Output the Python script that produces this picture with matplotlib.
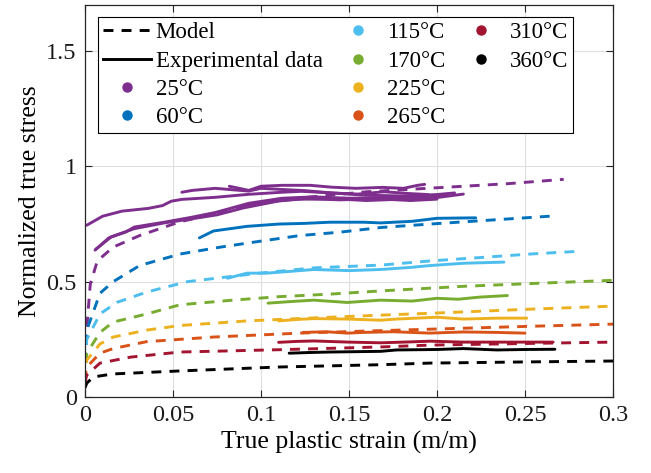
import matplotlib
matplotlib.use("Agg")
import matplotlib.pyplot as plt
from matplotlib.lines import Line2D

plt.rcParams["font.family"] = ["Liberation Serif", "DejaVu Serif"]

# MATLAB default line colours, one per test temperature
temps = ["25°C", "60°C", "115°C", "170°C", "225°C", "265°C", "310°C", "360°C"]
colors = ["#7E2F8E", "#0072BD", "#4DBEEE", "#77AC30", "#EDB120", "#D95319", "#A2142F", "#000000"]

# model curves (strain, normalized stress)
model_25_x = [0, 0.0005, 0.001, 0.003, 0.007, 0.016, 0.031, 0.054, 0.077, 0.099, 0.118, 0.16, 0.206, 0.24, 0.272]
model_25_y = [0.07, 0.22, 0.30, 0.49, 0.59, 0.65, 0.70, 0.76, 0.80, 0.84, 0.86, 0.89, 0.91, 0.925, 0.944]
model_60_x = [0, 0.0005, 0.001, 0.0085, 0.016, 0.031, 0.054, 0.077, 0.099, 0.122, 0.145, 0.168, 0.196, 0.23, 0.264]
model_60_y = [0.07, 0.22, 0.29, 0.45, 0.50, 0.57, 0.62, 0.65, 0.675, 0.70, 0.715, 0.735, 0.75, 0.767, 0.784]
model_115_x = [0, 0.0005, 0.001, 0.0085, 0.018, 0.035, 0.058, 0.080, 0.099, 0.13, 0.168, 0.196, 0.225, 0.253, 0.281]
model_115_y = [0.07, 0.19, 0.25, 0.36, 0.41, 0.455, 0.50, 0.52, 0.537, 0.56, 0.572, 0.59, 0.605, 0.62, 0.632]
model_170_x = [0, 0.0005, 0.001, 0.0085, 0.016, 0.035, 0.054, 0.084, 0.11, 0.139, 0.168, 0.215, 0.26, 0.30]
model_170_y = [0.07, 0.15, 0.19, 0.28, 0.325, 0.36, 0.40, 0.42, 0.435, 0.446, 0.46, 0.48, 0.494, 0.506]
model_225_x = [0, 0.0005, 0.001, 0.0085, 0.016, 0.035, 0.054, 0.092, 0.13, 0.168, 0.196, 0.25, 0.30]
model_225_y = [0.07, 0.13, 0.16, 0.23, 0.26, 0.29, 0.31, 0.33, 0.343, 0.355, 0.363, 0.38, 0.394]
model_265_x = [0, 0.0005, 0.001, 0.0085, 0.016, 0.035, 0.073, 0.122, 0.16, 0.196, 0.25, 0.30]
model_265_y = [0.07, 0.11, 0.13, 0.19, 0.21, 0.24, 0.26, 0.277, 0.286, 0.294, 0.306, 0.316]
model_310_x = [0, 0.0005, 0.001, 0.0085, 0.026, 0.054, 0.11, 0.168, 0.196, 0.25, 0.30]
model_310_y = [0.06, 0.08, 0.095, 0.147, 0.173, 0.195, 0.205, 0.217, 0.225, 0.232, 0.238]
model_360_x = [0, 0.001, 0.0047, 0.016, 0.054, 0.11, 0.168, 0.196, 0.25, 0.30]
model_360_y = [0.04, 0.06, 0.087, 0.10, 0.113, 0.13, 0.14, 0.147, 0.152, 0.156]

# experimental curves; 25°C has several repeat tests
exp_25a_x = [0.001, 0.01, 0.021, 0.036, 0.044, 0.049, 0.055, 0.074, 0.093, 0.112, 0.123, 0.14, 0.16, 0.18, 0.2, 0.21]
exp_25a_y = [0.745, 0.784, 0.806, 0.818, 0.83, 0.849, 0.857, 0.866, 0.879, 0.888, 0.892, 0.885, 0.875, 0.872, 0.878, 0.885]
exp_25b_x = [0.0057, 0.0135, 0.023, 0.028, 0.045, 0.061, 0.074, 0.093, 0.112, 0.13, 0.15, 0.17, 0.19, 0.205]
exp_25b_y = [0.637, 0.69, 0.715, 0.737, 0.758, 0.78, 0.80, 0.84, 0.862, 0.868, 0.862, 0.865, 0.87, 0.875]
exp_25c_x = [0.006, 0.015, 0.028, 0.045, 0.06, 0.075, 0.09, 0.11, 0.125, 0.145, 0.165, 0.185, 0.2]
exp_25c_y = [0.64, 0.695, 0.73, 0.755, 0.772, 0.79, 0.82, 0.85, 0.86, 0.855, 0.86, 0.852, 0.858]
exp_25d_x = [0.055, 0.061, 0.074, 0.085, 0.093, 0.10, 0.112, 0.125, 0.14, 0.155, 0.17, 0.185, 0.195]
exp_25d_y = [0.888, 0.896, 0.905, 0.898, 0.893, 0.905, 0.90, 0.895, 0.885, 0.88, 0.89, 0.882, 0.878]
exp_25e_x = [0.082, 0.093, 0.10, 0.112, 0.128, 0.14, 0.154, 0.169, 0.181, 0.189, 0.193]
exp_25e_y = [0.914, 0.896, 0.914, 0.918, 0.918, 0.91, 0.905, 0.909, 0.905, 0.918, 0.922]
exp_25f_x = [0.09, 0.105, 0.12, 0.14, 0.16, 0.18, 0.2, 0.215]
exp_25f_y = [0.83, 0.848, 0.858, 0.86, 0.852, 0.858, 0.865, 0.88]
exp_60_x = [0.065, 0.073, 0.092, 0.11, 0.125, 0.139, 0.158, 0.168, 0.186, 0.20, 0.222]
exp_60_y = [0.69, 0.72, 0.74, 0.75, 0.753, 0.758, 0.758, 0.755, 0.762, 0.775, 0.777]
exp_115_x = [0.081, 0.092, 0.103, 0.117, 0.13, 0.15, 0.168, 0.185, 0.196, 0.215, 0.238]
exp_115_y = [0.515, 0.537, 0.537, 0.545, 0.553, 0.548, 0.553, 0.562, 0.57, 0.58, 0.585]
exp_170_x = [0.104, 0.117, 0.13, 0.149, 0.168, 0.186, 0.20, 0.212, 0.224, 0.24]
exp_170_y = [0.407, 0.414, 0.42, 0.41, 0.42, 0.416, 0.428, 0.424, 0.433, 0.44]
exp_225_x = [0.11, 0.12, 0.13, 0.149, 0.168, 0.177, 0.20, 0.215, 0.235, 0.251]
exp_225_y = [0.33, 0.336, 0.34, 0.338, 0.333, 0.338, 0.346, 0.338, 0.342, 0.342]
exp_265_x = [0.124, 0.137, 0.149, 0.158, 0.175, 0.196, 0.215, 0.234, 0.25]
exp_265_y = [0.28, 0.283, 0.277, 0.28, 0.283, 0.277, 0.282, 0.28, 0.277]
exp_310_x = [0.11, 0.12, 0.13, 0.15, 0.168, 0.185, 0.196, 0.215, 0.234, 0.266]
exp_310_y = [0.237, 0.241, 0.243, 0.238, 0.235, 0.239, 0.242, 0.238, 0.238, 0.238]
exp_360_x = [0.116, 0.128, 0.139, 0.168, 0.177, 0.2, 0.215, 0.234, 0.25, 0.267]
exp_360_y = [0.19, 0.193, 0.195, 0.198, 0.204, 0.206, 0.21, 0.204, 0.206, 0.207]

model_curves = [
    (model_25_x, model_25_y), (model_60_x, model_60_y), (model_115_x, model_115_y),
    (model_170_x, model_170_y), (model_225_x, model_225_y), (model_265_x, model_265_y),
    (model_310_x, model_310_y), (model_360_x, model_360_y),
]
exp_curves = [
    [(exp_25a_x, exp_25a_y), (exp_25b_x, exp_25b_y), (exp_25c_x, exp_25c_y),
     (exp_25d_x, exp_25d_y), (exp_25e_x, exp_25e_y), (exp_25f_x, exp_25f_y)],
    [(exp_60_x, exp_60_y)], [(exp_115_x, exp_115_y)], [(exp_170_x, exp_170_y)],
    [(exp_225_x, exp_225_y)], [(exp_265_x, exp_265_y)], [(exp_310_x, exp_310_y)],
    [(exp_360_x, exp_360_y)],
]

fig = plt.figure(figsize=(6.51, 4.73), dpi=100)
ax = fig.add_axes([0.1306, 0.1607, 0.8110, 0.8287])

lw = 2.1
dash = (0, (3.4, 2.8))
for c, (mx, my), group in zip(colors, model_curves, exp_curves):
    ax.plot(mx, my, color=c, lw=lw, linestyle=dash)
    for ex, ey in group:
        ax.plot(ex, ey, color=c, lw=lw, solid_capstyle="round", solid_joinstyle="round")

ax.set_xlim(0, 0.3)
ax.set_ylim(0, 1.7)
ax.set_xticks([0, 0.05, 0.1, 0.15, 0.2, 0.25, 0.3])
ax.set_xticklabels(["0", "0.05", "0.1", "0.15", "0.2", "0.25", "0.3"])
ax.set_yticks([0, 0.5, 1, 1.5])
ax.set_yticklabels(["0", "0.5", "1", "1.5"])
ax.tick_params(direction="in", top=True, right=True, labelsize=17.5, length=5, width=0.8,
               colors="#262626", pad=6)
for lbl in ax.get_xticklabels() + ax.get_yticklabels():
    lbl.set_color("#1a1a1a")
ax.grid(True, color="#dfdfdf", lw=0.8)
ax.set_axisbelow(True)
for s in ax.spines.values():
    s.set_color("#262626")
    s.set_linewidth(0.9)

ax.set_xlabel("True plastic strain (m/m)", fontsize=18.5, labelpad=3)
ax.set_ylabel("Normalized true stress", fontsize=18.5, labelpad=4)

handles = [
    Line2D([], [], color="black", lw=lw, linestyle=dash),
    Line2D([], [], color="black", lw=lw),
]
labels = ["Model", "Experimental data"]
for c, t in zip(colors, temps):
    handles.append(Line2D([], [], color=c, marker="o", markersize=6.5, linestyle="none"))
    labels.append(t)
# two empty slots so the last column holds only two entries
for _ in range(2):
    handles.append(Line2D([], [], linestyle="none"))
    labels.append("")

leg = ax.legend(handles, labels, ncol=3, loc="upper left", bbox_to_anchor=(0.0246, 0.969),
                borderaxespad=0, fontsize=16.5, frameon=True, fancybox=False, framealpha=1,
                edgecolor="black", handlelength=2.1, handletextpad=0.2, columnspacing=0.5,
                labelspacing=0.32, borderpad=0.22)
leg.get_frame().set_linewidth(0.8)

fig.savefig("out.png", dpi=100)
